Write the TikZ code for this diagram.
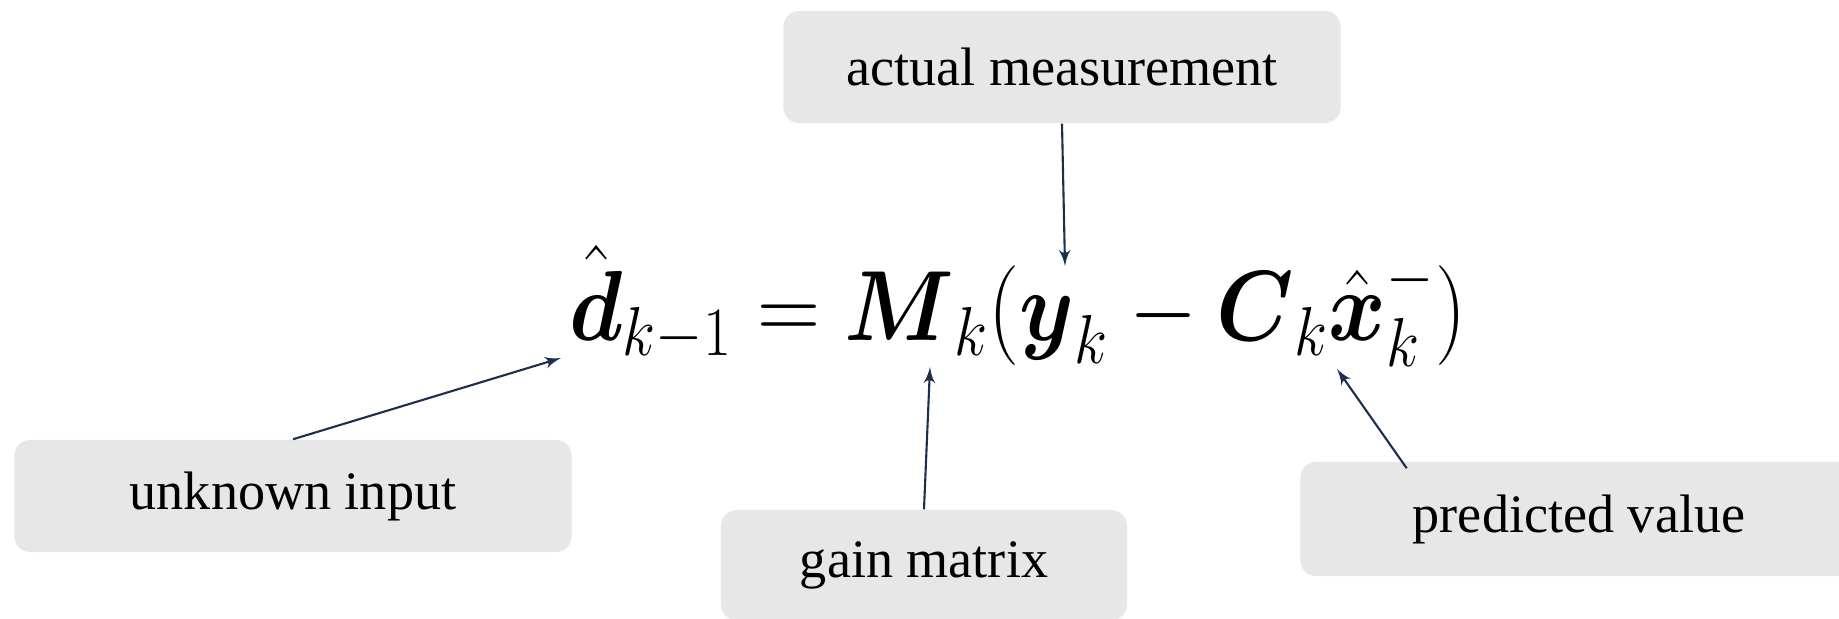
\documentclass[tikz,border=0pt]{standalone}
\usepackage{amsmath,amssymb,amsfonts}
\usepackage{fontspec}
\setmainfont{Liberation Serif}
\usepackage{xcolor}
\usepackage{tikz}
\usetikzlibrary{arrows, positioning, calc}
\definecolor{NoteGrey}{HTML}{E7E7E7}
\definecolor{PointerNavy}{HTML}{1C2F4D}

\begin{document}
\begin{tikzpicture}[x=0.01cm, y=-0.01cm, >=latex', every node/.style={transform shape}]
    \tikzstyle{note} = [rectangle, fill=NoteGrey, rounded corners=4.5pt, minimum width=5.57cm, minimum height=1.12cm, align=center, font=\fontsize{15.4}{18}\selectfont]
    \tikzstyle{pointer} = [draw, ->, line width=0.6pt, PointerNavy]
    \useasboundingbox (0,0) rectangle (1839,619);

    \node [inner sep=0pt, anchor=base, yscale=1.14, font=\fontsize{24.7}{30}\selectfont] (eq) at (1018,341)
        {$\hat{\boldsymbol{d}}_{k-1} = \boldsymbol{M}_k(\boldsymbol{y}_k - \boldsymbol{C}_k\hat{\boldsymbol{x}}_k^-)$};

    \node [note] (meas) at (1062,67) {actual measurement};
    \node [note] (unknown) at (293,496) {unknown input};
    \node [note, minimum width=4.06cm, minimum height=1.10cm] (gain) at (924,565) {gain matrix};
    \node [note, minimum height=1.14cm] (pred) at (1579,519) {predicted value};

    % arrow tips on the equation
    \coordinate (atD) at (561,358);
    \coordinate (atM) at (930,367);
    \coordinate (atY) at (1065,266);
    \coordinate (atX) at (1337,369);

    \path [pointer] (unknown.north) -- (atD);
    \path [pointer] (gain.north) -- (atM);
    \path [pointer] (meas.south) -- (atY);
    \path [pointer] ([xshift=1.07cm, yshift=-0.07cm]pred.north west) -- (atX);
\end{tikzpicture}
\end{document}
